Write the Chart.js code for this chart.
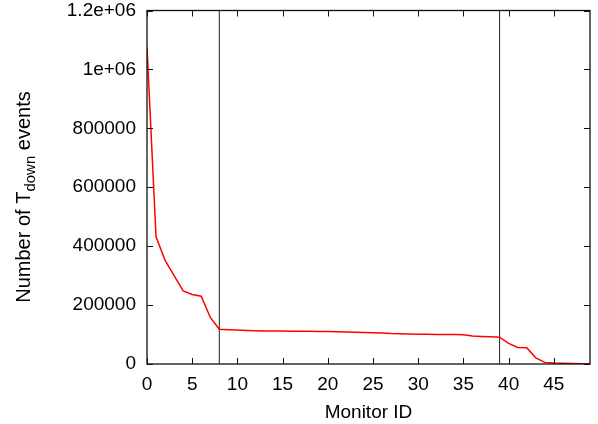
<!DOCTYPE html>
<html>
<head>
<meta charset="utf-8">
<script src="https://cdn.jsdelivr.net/npm/chart.js@4.4.1/dist/chart.umd.min.js"></script>
<style>
  html, body { margin: 0; padding: 0; background: #fff; }
  .wrap { width: 598px; height: 424px; position: relative; }
</style>
</head>
<body>
<div class="wrap"><canvas id="tdownChart"></canvas></div>
<script>
"use strict";

// monitor ids on x, event counts
const monitorIds = [
  0, 1, 2, 3, 4, 5, 6, 7, 8, 9,
  10, 11, 12, 13, 14, 15, 16, 17, 18, 19,
  20, 21, 22, 23, 24, 25, 26, 27, 28, 29,
  30, 31, 32, 33, 34, 35, 36, 37, 38, 39,
  40, 41, 42, 43, 44, 45, 46, 47, 48, 49,
];
const tdownEvents = [
  1075000, 432000, 352000, 300000, 248000, 236000, 230000, 158000, 118000, 116500,
  115500, 114000, 113000, 112000, 112000, 111800, 111500, 111000, 110800, 110500,
  110000, 109500, 108800, 108000, 107000, 106500, 105500, 103500, 102500, 101500,
  101000, 100800, 100500, 100200, 99800, 99000, 95000, 93500, 92500, 91000,
  70000, 56000, 55000, 21000, 5500, 3500, 2500, 1500, 800, 300,
];
// vertical separators
const markerIds = [8, 39];
const xTicks = [0, 5, 10, 15, 20, 25, 30, 35, 40, 45];
const yTicks = [0, 200000, 400000, 600000, 800000, 1000000, 1200000];
const yTickLabels = ["0", "200000", "400000", "600000", "800000", "1e+06", "1.2e+06"];

const FONT = "'Liberation Sans', Arial, sans-serif";

const points = monitorIds.map((id, i) => ({ x: id, y: tdownEvents[i] }));

const markerSets = markerIds.map((id) => ({
  data: [
    { x: id, y: yTicks[0] },
    { x: id, y: yTicks[yTicks.length - 1] },
  ],
  borderColor: "#222",
  borderWidth: 1,
  pointRadius: 0,
}));

// box + inward tick marks like gnuplot, and y title with subscript
const frame = {
  id: "frame",
  afterDraw(chart) {
    const { ctx, chartArea: a, scales } = chart;
    const tl = 6;
    ctx.save();
    ctx.strokeStyle = "#111";
    ctx.lineWidth = 1.3;
    ctx.strokeRect(a.left, a.top, a.right - a.left, a.bottom - a.top);
    ctx.lineWidth = 1;
    ctx.beginPath();
    xTicks.forEach((v) => {
      const px = Math.round(scales.x.getPixelForValue(v)) + 0.5;
      ctx.moveTo(px, a.bottom);
      ctx.lineTo(px, a.bottom - tl);
      ctx.moveTo(px, a.top);
      ctx.lineTo(px, a.top + tl);
    });
    yTicks.forEach((v) => {
      const py = Math.round(scales.y.getPixelForValue(v)) + 0.5;
      ctx.moveTo(a.left, py);
      ctx.lineTo(a.left + tl, py);
      ctx.moveTo(a.right, py);
      ctx.lineTo(a.right - tl, py);
    });
    ctx.stroke();

    // y axis title
    ctx.fillStyle = "#000";
    ctx.textBaseline = "alphabetic";
    ctx.textAlign = "left";
    const big = "20px " + FONT;
    const small = "15px " + FONT;
    const p1 = "Number of T";
    const p2 = "down";
    const p3 = " events";
    ctx.font = big;
    const w1 = ctx.measureText(p1).width;
    const w3 = ctx.measureText(p3).width;
    ctx.font = small;
    const w2 = ctx.measureText(p2).width;
    const total = w1 + w2 + w3;
    ctx.translate(30, 197);
    ctx.rotate(-Math.PI / 2);
    let x0 = -total / 2;
    ctx.font = big;
    ctx.fillText(p1, x0, 0);
    ctx.font = small;
    ctx.fillText(p2, x0 + w1, 5);
    ctx.font = big;
    ctx.fillText(p3, x0 + w1 + w2, 0);
    ctx.restore();
  },
};

const ctx = document.getElementById("tdownChart").getContext("2d");

new Chart(ctx, {
  type: "line",
  data: {
    datasets: [
      {
        data: points,
        borderColor: "#ff0000",
        borderWidth: 1.5,
        pointRadius: 0,
        tension: 0,
      },
      ...markerSets,
    ],
  },
  options: {
    animation: false,
    responsive: true,
    maintainAspectRatio: false,
    layout: { padding: { top: 10.5, right: 8, left: 0, bottom: 0 } },
    plugins: {
      legend: { display: false },
      tooltip: { enabled: false },
    },
    scales: {
      x: {
        type: "linear",
        min: 0,
        max: 49,
        grid: { display: false, drawTicks: false },
        border: { display: false },
        ticks: {
          stepSize: 5,
          includeBounds: false,
          maxRotation: 0,
          padding: 9,
          color: "#000",
          font: { family: FONT, size: 19 },
        },
        title: {
          display: true,
          text: "Monitor ID",
          color: "#000",
          font: { family: FONT, size: 19 },
          padding: { top: 0, bottom: 0 },
        },
        afterFit(scale) {
          scale.height = 60;
          scale.paddingLeft = 0;
          scale.paddingRight = 0;
        },
      },
      y: {
        min: 0,
        max: 1200000,
        grid: { display: false, drawTicks: false },
        border: { display: false },
        ticks: {
          stepSize: 200000,
          padding: 11,
          color: "#000",
          font: { family: FONT, size: 19 },
          callback: (value) => {
            const i = yTicks.indexOf(value);
            return i >= 0 ? yTickLabels[i] : "";
          },
        },
        afterFit(scale) {
          scale.width = 147;
          scale.paddingTop = 0;
          scale.paddingBottom = 0;
        },
      },
    },
  },
  plugins: [frame],
});
</script>
</body>
</html>
